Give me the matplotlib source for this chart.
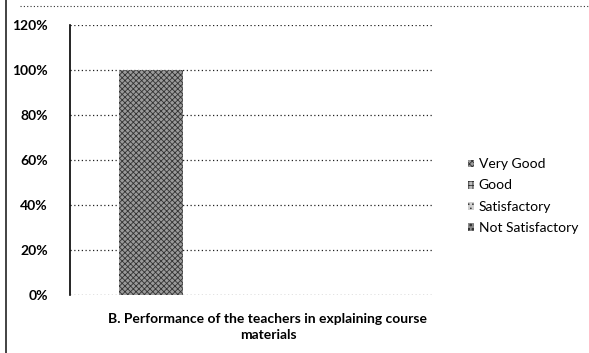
import matplotlib.pyplot as plt
from matplotlib.lines import Line2D

categories = ["B. Performance of the teachers in explaining course\nmaterials"]
series = ["Very Good", "Good", "Satisfactory", "Not Satisfactory"]
values = {
    "Very Good": [1.0],
    "Good": [0.0],
    "Satisfactory": [0.0],
    "Not Satisfactory": [0.0],
}
yticks = [0, 0.2, 0.4, 0.6, 0.8, 1.0, 1.2]

hatches = ["xxxxxx", "++++", "....", "oooo"]
faces = ["#9a9a9a", "#bdbdbd", "#cfcfcf", "#8a8a8a"]

plt.rcParams["font.family"] = ["Lato", "DejaVu Sans"]
plt.rcParams["hatch.linewidth"] = 0.6

fig = plt.figure(figsize=(5.89, 3.53), dpi=100)
ax = fig.add_axes([70 / 589, 1 - 295 / 353, 362 / 589, 270 / 353])

bottom = [0.0]
handles = []
for name, h, fc in zip(series, hatches, faces):
    b = ax.bar(0, values[name], width=0.8, bottom=bottom, color=fc,
               hatch=h, edgecolor="#333333", linewidth=0, zorder=3)
    handles.append(b)
    bottom = [bottom[0] + values[name][0]]

ax.set_xlim(-1.0, 3.47)
ax.set_ylim(0, 1.2)
ax.set_yticks(yticks)
ax.set_yticklabels([f"{int(round(v * 100))}%" for v in yticks],
                   fontsize=10, fontweight="bold")
ax.set_xticks([])
ax.grid(axis="y", linestyle=(0, (1, 2)), color="#222222", linewidth=0.9, zorder=0)
for s in ["top", "right", "bottom"]:
    ax.spines[s].set_visible(False)
ax.spines["left"].set_linewidth(1.2)
ax.tick_params(axis="y", length=0, pad=16)

fig.text(268 / 589, 1 - 327 / 353, categories[0], ha="center", va="center",
         fontsize=10, fontweight="bold", linespacing=1.4)

ax.legend(handles, series, loc="center left", bbox_to_anchor=(455 / 589, 1 - 196 / 353),
          bbox_transform=fig.transFigure, frameon=False, fontsize=10,
          handlelength=0.5, handleheight=0.5, handletextpad=0.3, labelspacing=0.65)

# scan frame lines
fig.add_artist(Line2D([6 / 589, 6 / 589], [0, 1], color="#222222", linewidth=1.2))
fig.add_artist(Line2D([20 / 589, 1], [1 - 6 / 353, 1 - 6 / 353], color="#333333",
                      linewidth=0.8, linestyle=(0, (1, 2))))

fig.savefig("out.png", dpi=100)
